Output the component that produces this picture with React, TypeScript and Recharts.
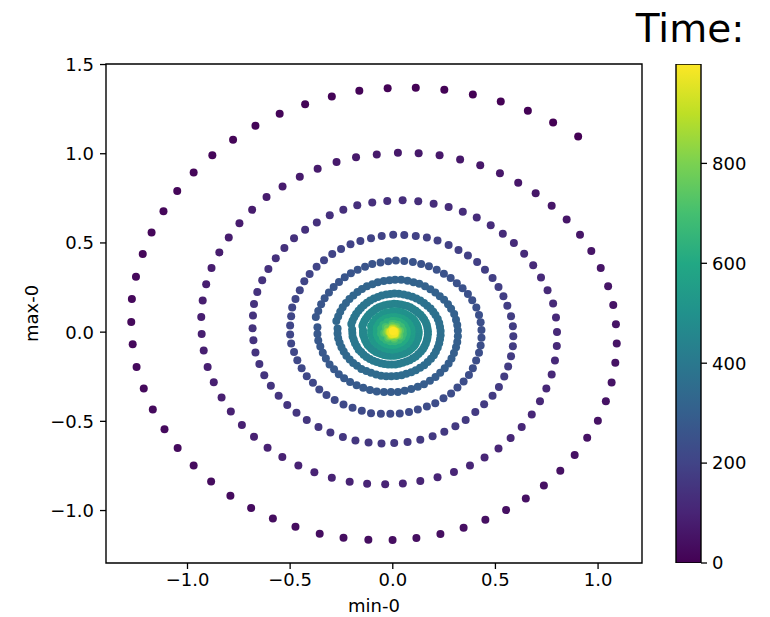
import React from "react";
import { ScatterChart, Scatter, XAxis, YAxis, ReferenceArea, BarChart, Bar } from "recharts";

// [time, min-0, max-0], one array per turn of the spiral
const turn1 = [
  [0, 0.903, 1.097], [1, 0.781, 1.175], [2, 0.658, 1.241], [3, 0.526, 1.293], [4, 0.39, 1.332], [5, 0.251, 1.358],
  [6, 0.112, 1.37], [7, -0.025, 1.367], [8, -0.163, 1.353], [9, -0.297, 1.321], [10, -0.427, 1.278], [11, -0.551, 1.224],
  [12, -0.669, 1.157], [13, -0.778, 1.078], [14, -0.879, 0.992], [15, -0.97, 0.895], [16, -1.05, 0.791], [17, -1.117, 0.677],
  [18, -1.175, 0.558], [19, -1.218, 0.438], [20, -1.251, 0.311], [21, -1.271, 0.186], [22, -1.274, 0.057], [23, -1.267, -0.068],
  [24, -1.248, -0.195], [25, -1.213, -0.316], [26, -1.169, -0.434], [27, -1.112, -0.545], [28, -1.048, -0.65], [29, -0.97, -0.747],
  [30, -0.885, -0.837], [31, -0.791, -0.917], [32, -0.69, -0.986], [33, -0.584, -1.044], [34, -0.474, -1.091], [35, -0.356, -1.13],
  [36, -0.24, -1.152], [37, -0.119, -1.163], [38, -0.001, -1.165], [39, 0.115, -1.154], [40, 0.232, -1.132], [41, 0.345, -1.096],
  [42, 0.451, -1.051], [43, 0.552, -0.997], [44, 0.648, -0.932], [45, 0.736, -0.859], [46, 0.816, -0.777], [47, 0.886, -0.689],
  [48, 0.947, -0.592], [49, 0.999, -0.497], [50, 1.038, -0.387], [51, 1.066, -0.282], [52, 1.084, -0.172], [53, 1.091, -0.064],
  [54, 1.087, 0.044], [55, 1.074, 0.152], [56, 1.049, 0.257], [57, 1.013, 0.36], [58, 0.967, 0.455], [59, 0.912, 0.546],
  [60, 0.847, 0.632], [61, 0.774, 0.709], [62, 0.696, 0.779],
];

const turn2 = [
  [63, 0.611, 0.837], [64, 0.522, 0.891], [65, 0.426, 0.936], [66, 0.328, 0.968], [67, 0.228, 0.992], [68, 0.126, 1.003],
  [69, 0.025, 1.006], [70, -0.078, 0.996], [71, -0.179, 0.981], [72, -0.274, 0.953], [73, -0.366, 0.916], [74, -0.453, 0.871],
  [75, -0.537, 0.817], [76, -0.615, 0.757], [77, -0.685, 0.686], [78, -0.747, 0.611], [79, -0.799, 0.531], [80, -0.845, 0.447],
  [81, -0.883, 0.36], [82, -0.909, 0.268], [83, -0.926, 0.177], [84, -0.933, 0.085], [85, -0.931, -0.01], [86, -0.921, -0.103],
  [87, -0.902, -0.195], [88, -0.872, -0.281], [89, -0.834, -0.366], [90, -0.789, -0.445], [91, -0.735, -0.52], [92, -0.676, -0.587],
  [93, -0.61, -0.648], [94, -0.538, -0.7], [95, -0.46, -0.747], [96, -0.382, -0.786], [97, -0.297, -0.816], [98, -0.21, -0.839],
  [99, -0.125, -0.85], [100, -0.037, -0.853], [101, 0.049, -0.848], [102, 0.134, -0.835], [103, 0.218, -0.814], [104, 0.298, -0.784],
  [105, 0.376, -0.747], [106, 0.447, -0.702], [107, 0.515, -0.652], [108, 0.574, -0.594], [109, 0.628, -0.531], [110, 0.677, -0.461],
  [111, 0.717, -0.387], [112, 0.748, -0.316], [113, 0.774, -0.237], [114, 0.79, -0.159], [115, 0.799, -0.077], [116, 0.8, 0.001],
  [117, 0.795, 0.082], [118, 0.781, 0.16], [119, 0.754, 0.235], [120, 0.722, 0.306], [121, 0.684, 0.375], [122, 0.64, 0.44],
  [123, 0.59, 0.5], [124, 0.536, 0.552], [125, 0.477, 0.599],
];

const turn3 = [
  [126, 0.409, 0.642], [127, 0.341, 0.675], [128, 0.272, 0.701], [129, 0.199, 0.72], [130, 0.124, 0.733], [131, 0.048, 0.739],
  [132, -0.027, 0.735], [133, -0.1, 0.727], [134, -0.173, 0.711], [135, -0.241, 0.686], [136, -0.307, 0.655], [137, -0.37, 0.615],
  [138, -0.427, 0.574], [139, -0.481, 0.526], [140, -0.528, 0.471], [141, -0.57, 0.414], [142, -0.606, 0.354], [143, -0.636, 0.291],
  [144, -0.66, 0.225], [145, -0.676, 0.158], [146, -0.681, 0.093], [147, -0.683, 0.022], [148, -0.679, -0.045], [149, -0.669, -0.114],
  [150, -0.65, -0.178], [151, -0.626, -0.241], [152, -0.594, -0.301], [153, -0.556, -0.357], [154, -0.514, -0.408], [155, -0.469, -0.452],
  [156, -0.419, -0.493], [157, -0.362, -0.532], [158, -0.304, -0.563], [159, -0.243, -0.588], [160, -0.182, -0.607], [161, -0.118, -0.618],
  [162, -0.055, -0.624], [163, 0.007, -0.622], [164, 0.072, -0.616], [165, 0.134, -0.603], [166, 0.194, -0.583], [167, 0.251, -0.559],
  [168, 0.305, -0.527], [169, 0.355, -0.493], [170, 0.402, -0.448], [171, 0.445, -0.404], [172, 0.486, -0.357], [173, 0.517, -0.307],
  [174, 0.543, -0.249], [175, 0.562, -0.193], [176, 0.576, -0.135], [177, 0.585, -0.079], [178, 0.587, -0.023], [179, 0.585, 0.033],
  [180, 0.576, 0.089], [181, 0.558, 0.148], [182, 0.539, 0.201], [183, 0.515, 0.253], [184, 0.486, 0.303], [185, 0.449, 0.35],
  [186, 0.411, 0.393], [187, 0.366, 0.429],
];

const turn4 = [
  [188, 0.32, 0.46], [189, 0.272, 0.488], [190, 0.218, 0.513], [191, 0.166, 0.53], [192, 0.112, 0.539], [193, 0.056, 0.544],
  [194, 0.002, 0.546], [195, -0.054, 0.539], [196, -0.106, 0.526], [197, -0.158, 0.511], [198, -0.206, 0.492], [199, -0.252, 0.466],
  [200, -0.295, 0.438], [201, -0.335, 0.403], [202, -0.371, 0.367], [203, -0.405, 0.326], [204, -0.431, 0.285], [205, -0.453, 0.235],
  [206, -0.474, 0.186], [207, -0.49, 0.138], [208, -0.495, 0.089], [209, -0.5, 0.037], [210, -0.5, -0.013], [211, -0.495, -0.064],
  [212, -0.481, -0.111], [213, -0.465, -0.157], [214, -0.444, -0.202], [215, -0.419, -0.247], [216, -0.389, -0.284], [217, -0.358, -0.322],
  [218, -0.323, -0.352], [219, -0.283, -0.381], [220, -0.24, -0.405], [221, -0.196, -0.424], [222, -0.151, -0.441], [223, -0.106, -0.454],
  [224, -0.058, -0.458], [225, -0.012, -0.458], [226, 0.034, -0.456], [227, 0.079, -0.447], [228, 0.122, -0.433], [229, 0.166, -0.417],
  [230, 0.207, -0.398], [231, 0.247, -0.37], [232, 0.284, -0.344], [233, 0.315, -0.31], [234, 0.345, -0.277], [235, 0.371, -0.24],
  [236, 0.39, -0.202], [237, 0.406, -0.159], [238, 0.42, -0.116], [239, 0.428, -0.075], [240, 0.432, -0.032], [241, 0.432, 0.012],
  [242, 0.428, 0.055], [243, 0.42, 0.096], [244, 0.407, 0.138], [245, 0.387, 0.179], [246, 0.366, 0.214], [247, 0.34, 0.246],
  [248, 0.312, 0.274], [249, 0.282, 0.303], [250, 0.249, 0.328],
];

const turn5 = [
  [251, 0.214, 0.35], [252, 0.176, 0.369], [253, 0.138, 0.382], [254, 0.098, 0.393], [255, 0.056, 0.399], [256, 0.015, 0.401],
  [257, -0.022, 0.397], [258, -0.06, 0.391], [259, -0.1, 0.382], [260, -0.135, 0.367], [261, -0.171, 0.35], [262, -0.204, 0.33],
  [263, -0.234, 0.307], [264, -0.262, 0.281], [265, -0.288, 0.253], [266, -0.311, 0.222], [267, -0.332, 0.19], [268, -0.349, 0.156],
  [269, -0.363, 0.119], [270, -0.375, 0.085], [271, -0.367, 0.027], [272, -0.367, -0.01], [273, -0.363, -0.047], [274, -0.353, -0.081],
  [275, -0.341, -0.115], [276, -0.326, -0.148], [277, -0.308, -0.181], [278, -0.286, -0.208], [279, -0.263, -0.236], [280, -0.237, -0.258],
  [281, -0.208, -0.28], [282, -0.176, -0.297], [283, -0.144, -0.311], [284, -0.111, -0.324], [285, -0.078, -0.333], [286, -0.043, -0.336],
  [287, -0.009, -0.336], [288, 0.025, -0.335], [289, 0.058, -0.328], [290, 0.09, -0.318], [291, 0.122, -0.306], [292, 0.152, -0.292],
  [293, 0.181, -0.272], [294, 0.208, -0.252], [295, 0.231, -0.228], [296, 0.253, -0.203], [297, 0.272, -0.176], [298, 0.286, -0.148],
  [299, 0.298, -0.117], [300, 0.308, -0.085], [301, 0.314, -0.055], [302, 0.317, -0.023], [303, 0.317, 0.009], [304, 0.314, 0.04],
  [305, 0.308, 0.07], [306, 0.299, 0.101], [307, 0.284, 0.131], [308, 0.269, 0.157], [309, 0.25, 0.181], [310, 0.229, 0.201],
  [311, 0.207, 0.222], [312, 0.183, 0.241], [313, 0.157, 0.257], [314, 0.129, 0.271], [315, 0.101, 0.28], [316, 0.072, 0.288],
  [317, 0.041, 0.293], [318, 0.011, 0.294],
];

const turn6 = [
  [319, -0.016, 0.291], [320, -0.044, 0.287], [321, -0.073, 0.28], [322, -0.099, 0.269], [323, -0.126, 0.257], [324, -0.15, 0.242],
  [325, -0.172, 0.225], [326, -0.192, 0.206], [327, -0.211, 0.186], [328, -0.228, 0.163], [329, -0.244, 0.139], [330, -0.256, 0.115],
  [331, -0.266, 0.087], [332, -0.275, 0.062], [333, -0.269, 0.02], [334, -0.269, -0.007], [335, -0.266, -0.034], [336, -0.259, -0.059],
  [337, -0.25, -0.084], [338, -0.239, -0.109], [339, -0.226, -0.133], [340, -0.21, -0.153], [341, -0.193, -0.173], [342, -0.174, -0.189],
  [343, -0.153, -0.206], [344, -0.129, -0.218], [345, -0.106, -0.228], [346, -0.081, -0.238], [347, -0.057, -0.244], [348, -0.032, -0.247],
  [349, -0.007, -0.247], [350, 0.018, -0.246], [351, 0.043, -0.241], [352, 0.066, -0.233], [353, 0.09, -0.225], [354, 0.112, -0.214],
  [355, 0.133, -0.2], [356, 0.153, -0.185], [357, 0.17, -0.167], [358, 0.186, -0.149], [359, 0.2, -0.129], [360, 0.21, -0.109],
  [361, 0.219, -0.086], [362, 0.226, -0.062], [363, 0.23, -0.04], [364, 0.233, -0.017], [365, 0.233, 0.007], [366, 0.23, 0.029],
  [367, 0.226, 0.051], [368, 0.219, 0.074], [369, 0.208, 0.096], [370, 0.197, 0.115], [371, 0.184, 0.133], [372, 0.168, 0.148],
  [373, 0.152, 0.163], [374, 0.134, 0.177], [375, 0.115, 0.189], [376, 0.095, 0.199], [377, 0.074, 0.206], [378, 0.053, 0.211],
  [379, 0.03, 0.215], [380, 0.008, 0.216],
];

const turn7 = [
  [381, -0.012, 0.214], [382, -0.032, 0.211], [383, -0.054, 0.206], [384, -0.073, 0.197], [385, -0.092, 0.189], [386, -0.11, 0.178],
  [387, -0.126, 0.165], [388, -0.141, 0.151], [389, -0.155, 0.136], [390, -0.167, 0.12], [391, -0.179, 0.102], [392, -0.188, 0.084],
  [393, -0.196, 0.064], [394, -0.202, 0.046], [395, -0.198, 0.015], [396, -0.197, -0.005], [397, -0.196, -0.025], [398, -0.19, -0.043],
  [399, -0.184, -0.062], [400, -0.175, -0.08], [401, -0.166, -0.098], [402, -0.154, -0.112], [403, -0.142, -0.127], [404, -0.128, -0.139],
  [405, -0.112, -0.151], [406, -0.095, -0.16], [407, -0.078, -0.168], [408, -0.059, -0.175], [409, -0.042, -0.179], [410, -0.023, -0.181],
  [411, -0.005, -0.181], [412, 0.013, -0.181], [413, 0.031, -0.177], [414, 0.048, -0.171], [415, 0.066, -0.165], [416, 0.082, -0.157],
  [417, 0.098, -0.147], [418, 0.112, -0.136], [419, 0.125, -0.123], [420, 0.137, -0.109], [421, 0.147, -0.095], [422, 0.154, -0.08],
  [423, 0.161, -0.063], [424, 0.166, -0.046], [425, 0.169, -0.03], [426, 0.171, -0.012], [427, 0.171, 0.005], [428, 0.169, 0.021],
  [429, 0.166, 0.038], [430, 0.161, 0.054], [431, 0.153, 0.071], [432, 0.145, 0.084], [433, 0.135, 0.098], [434, 0.123, 0.109],
  [435, 0.112, 0.12], [436, 0.098, 0.13], [437, 0.085, 0.139], [438, 0.07, 0.146], [439, 0.054, 0.151], [440, 0.039, 0.155],
  [441, 0.022, 0.158], [442, 0.006, 0.159],
];

const turn8 = [
  [443, -0.009, 0.157], [444, -0.023, 0.155], [445, -0.04, 0.151], [446, -0.054, 0.145], [447, -0.068, 0.139], [448, -0.081, 0.131],
  [449, -0.092, 0.121], [450, -0.103, 0.111], [451, -0.114, 0.1], [452, -0.123, 0.088], [453, -0.131, 0.075], [454, -0.138, 0.062],
  [455, -0.144, 0.047], [456, -0.148, 0.034], [457, -0.145, 0.011], [458, -0.145, -0.004], [459, -0.144, -0.018], [460, -0.139, -0.032],
  [461, -0.135, -0.046], [462, -0.128, -0.059], [463, -0.122, -0.072], [464, -0.113, -0.082], [465, -0.104, -0.093], [466, -0.094, -0.102],
  [467, -0.082, -0.111], [468, -0.07, -0.117], [469, -0.057, -0.123], [470, -0.043, -0.128], [471, -0.031, -0.131], [472, -0.017, -0.133],
  [473, -0.004, -0.133], [474, 0.01, -0.133], [475, 0.023, -0.13], [476, 0.035, -0.126], [477, 0.048, -0.121], [478, 0.06, -0.115],
  [479, 0.072, -0.108], [480, 0.082, -0.1], [481, 0.092, -0.09], [482, 0.101, -0.08], [483, 0.108, -0.07], [484, 0.113, -0.059],
  [485, 0.118, -0.046], [486, 0.122, -0.034], [487, 0.124, -0.022], [488, 0.126, -0.009], [489, 0.126, 0.004], [490, 0.124, 0.015],
  [491, 0.122, 0.028], [492, 0.118, 0.04], [493, 0.112, 0.052], [494, 0.106, 0.062], [495, 0.099, 0.072], [496, 0.09, 0.08],
  [497, 0.082, 0.088], [498, 0.072, 0.095], [499, 0.062, 0.102], [500, 0.051, 0.107], [501, 0.04, 0.111], [502, 0.029, 0.114],
  [503, 0.016, 0.116], [504, 0.004, 0.117],
];

// the core is one solid blob of overlapping dots, so only a sample of its points is listed
const core = [
  [505, -0.007, 0.115], [507, -0.029, 0.111], [509, -0.05, 0.102], [511, -0.068, 0.089], [513, -0.084, 0.073], [515, -0.096, 0.055],
  [517, -0.106, 0.034], [519, -0.106, 0.008], [521, -0.106, -0.013], [523, -0.099, -0.034], [525, -0.09, -0.053], [527, -0.076, -0.068],
  [529, -0.06, -0.081], [531, -0.042, -0.09], [533, -0.023, -0.096], [535, -0.003, -0.098], [537, 0.017, -0.095], [539, 0.035, -0.089],
  [541, 0.053, -0.079], [543, 0.068, -0.066], [545, 0.079, -0.051], [547, 0.087, -0.034], [549, 0.091, -0.016], [551, 0.092, 0.003],
  [553, 0.09, 0.021], [555, 0.082, 0.038], [557, 0.073, 0.053], [559, 0.06, 0.065], [561, 0.046, 0.075], [563, 0.029, 0.081],
  [565, 0.012, 0.085],
  [567, -0.005, 0.084], [569, -0.021, 0.081], [571, -0.037, 0.075], [573, -0.05, 0.065], [575, -0.062, 0.054], [577, -0.07, 0.04],
  [579, -0.078, 0.025], [581, -0.078, 0.006], [583, -0.078, -0.01], [585, -0.073, -0.025], [587, -0.066, -0.039], [589, -0.056, -0.05],
  [591, -0.044, -0.059], [593, -0.031, -0.066], [595, -0.017, -0.07], [597, -0.002, -0.072], [599, 0.012, -0.07], [601, 0.026, -0.065],
  [603, 0.039, -0.058], [605, 0.05, -0.048], [607, 0.058, -0.037], [609, 0.064, -0.025], [611, 0.067, -0.012], [613, 0.068, 0.002],
  [615, 0.066, 0.015], [617, 0.06, 0.028], [619, 0.054, 0.039], [621, 0.044, 0.048], [623, 0.034, 0.055], [625, 0.021, 0.059],
  [627, 0.009, 0.062],
  [629, -0.004, 0.062], [633, -0.027, 0.055], [637, -0.046, 0.04], [641, -0.057, 0.018], [645, -0.057, -0.007], [649, -0.048, -0.029],
  [653, -0.032, -0.043], [657, -0.012, -0.051], [661, 0.009, -0.051], [665, 0.029, -0.043], [669, 0.043, -0.027], [673, 0.049, -0.009],
  [677, 0.048, 0.011], [681, 0.04, 0.029], [685, 0.025, 0.04], [689, 0.007, 0.046],
  [691, -0.003, 0.046], [699, -0.034, 0.029], [707, -0.042, -0.005], [715, -0.023, -0.032], [723, 0.007, -0.037], [731, 0.032, -0.02],
  [739, 0.035, 0.008], [747, 0.018, 0.029],
  [753, -0.002, 0.034], [761, -0.025, 0.021], [769, -0.031, -0.004], [777, -0.017, -0.023], [785, 0.005, -0.027], [793, 0.023, -0.015],
  [801, 0.026, 0.006], [809, 0.013, 0.021],
  [815, -0.001, 0.025], [827, -0.022, 0.004], [839, -0.01, -0.019], [851, 0.014, -0.016], [863, 0.019, 0.004], [875, 0.004, 0.018],
  [877, -0.003, 0.018], [889, -0.016, 0.001], [901, -0.006, -0.014], [913, 0.011, -0.011], [925, 0.013, 0.005],
  [939, -0.002, 0.013], [951, -0.011, 0.001], [963, -0.004, -0.01], [975, 0.008, -0.007], [987, 0.008, 0.004], [999, 0.001, 0.007],
];

const xTicks = [-1, -0.5, 0, 0.5, 1];
const yTicks = [-1, -0.5, 0, 0.5, 1, 1.5];
const timeTicks = [0, 200, 400, 600, 800];
const timeMax = 999;
const timeRange = [{ name: "Time", top: timeMax }];

const VIRIDIS = [
  "#440154", "#482475", "#414487", "#355f8d", "#2a788e", "#21918c",
  "#22a884", "#44bf70", "#7ad151", "#bddf26", "#fde725",
];

function hex(c: string) {
  return [1, 3, 5].map((i) => parseInt(c.slice(i, i + 2), 16));
}

function viridis(v: number) {
  const f = Math.max(0, Math.min(1, v)) * (VIRIDIS.length - 1);
  const i = Math.min(VIRIDIS.length - 2, Math.floor(f));
  const a = hex(VIRIDIS[i]);
  const b = hex(VIRIDIS[i + 1]);
  const k = f - i;
  const m = a.map((x, j) => Math.round(x + (b[j] - x) * k));
  return `rgb(${m[0]},${m[1]},${m[2]})`;
}

const points = [...turn1, ...turn2, ...turn3, ...turn4, ...turn5, ...turn6, ...turn7, ...turn8, ...core]
  .map(([t, x, y]) => ({ t, x, y }))
  .sort((a, b) => a.t - b.t);

const FONT = "DejaVu Sans";
const tickStyle = { fontSize: 18, fill: "#000", fontFamily: FONT };
const fmt = (v: number) => (v < 0 ? "\u2212" : "") + Math.abs(v).toFixed(1);

const X_DOMAIN: [number, number] = [-1.397, 1.214];
const Y_DOMAIN: [number, number] = [-1.294, 1.503];

const Dot = (p: any) => <circle cx={p.cx} cy={p.cy} r={4} fill={viridis(p.payload.t / timeMax)} />;

export default function App() {
  return (
    <div style={{ position: "absolute", left: 0, top: 0, width: 770, height: 617, background: "#fff" }}>
      <div style={{ position: "absolute", left: 0, top: 0 }}>
        <ScatterChart width={770} height={617} margin={{ top: 64, right: 128, bottom: 4, left: 26 }}>
          <XAxis
            type="number"
            dataKey="x"
            domain={X_DOMAIN}
            ticks={xTicks}
            allowDataOverflow
            tickFormatter={fmt}
            tick={tickStyle}
            tickSize={6}
            tickMargin={4}
            axisLine={false}
            tickLine={{ stroke: "#000", strokeWidth: 1.3 }}
            height={50}
          />
          <YAxis
            type="number"
            dataKey="y"
            domain={Y_DOMAIN}
            ticks={yTicks}
            allowDataOverflow
            tickFormatter={fmt}
            tick={tickStyle}
            tickSize={6}
            tickMargin={6}
            axisLine={false}
            tickLine={{ stroke: "#000", strokeWidth: 1.3 }}
            width={80}
          />
          <ReferenceArea x1={X_DOMAIN[0]} x2={X_DOMAIN[1]} y1={Y_DOMAIN[0]} y2={Y_DOMAIN[1]} fill="none" stroke="#000" strokeWidth={1.4} />
          <Scatter data={points} shape={Dot} isAnimationActive={false} />
        </ScatterChart>
      </div>
      <div style={{ position: "absolute", left: 0, top: 0 }}>
        <BarChart width={770} height={617} data={timeRange} barCategoryGap={0} margin={{ top: 64, right: 9, bottom: 54, left: 676 }}>
          <defs>
            <linearGradient id="viridisBar" x1="0" y1="1" x2="0" y2="0">
              {VIRIDIS.map((c, i) => (
                <stop key={i} offset={i / (VIRIDIS.length - 1)} stopColor={c} />
              ))}
            </linearGradient>
          </defs>
          <XAxis dataKey="name" hide />
          <YAxis
            type="number"
            orientation="right"
            domain={[0, timeMax]}
            ticks={timeTicks}
            allowDataOverflow
            tick={tickStyle}
            tickSize={6}
            tickMargin={5}
            axisLine={false}
            tickLine={{ stroke: "#000", strokeWidth: 1.3 }}
            width={60}
          />
          <Bar dataKey="top" fill="url(#viridisBar)" stroke="#000" strokeWidth={1.4} isAnimationActive={false} />
        </BarChart>
      </div>
      <svg width={770} height={617} style={{ position: "absolute", left: 0, top: 0, pointerEvents: "none" }}>
        <text x={374} y={612} textAnchor="middle" fontSize={18} fontFamily={FONT}>min-0</text>
        <text x={0} y={0} transform="translate(38,313.5) rotate(-90)" textAnchor="middle" fontSize={18} fontFamily={FONT}>max-0</text>
        <text x={690} y={42} textAnchor="middle" fontSize={39} fontFamily={FONT}>Time:</text>
      </svg>
    </div>
  );
}
